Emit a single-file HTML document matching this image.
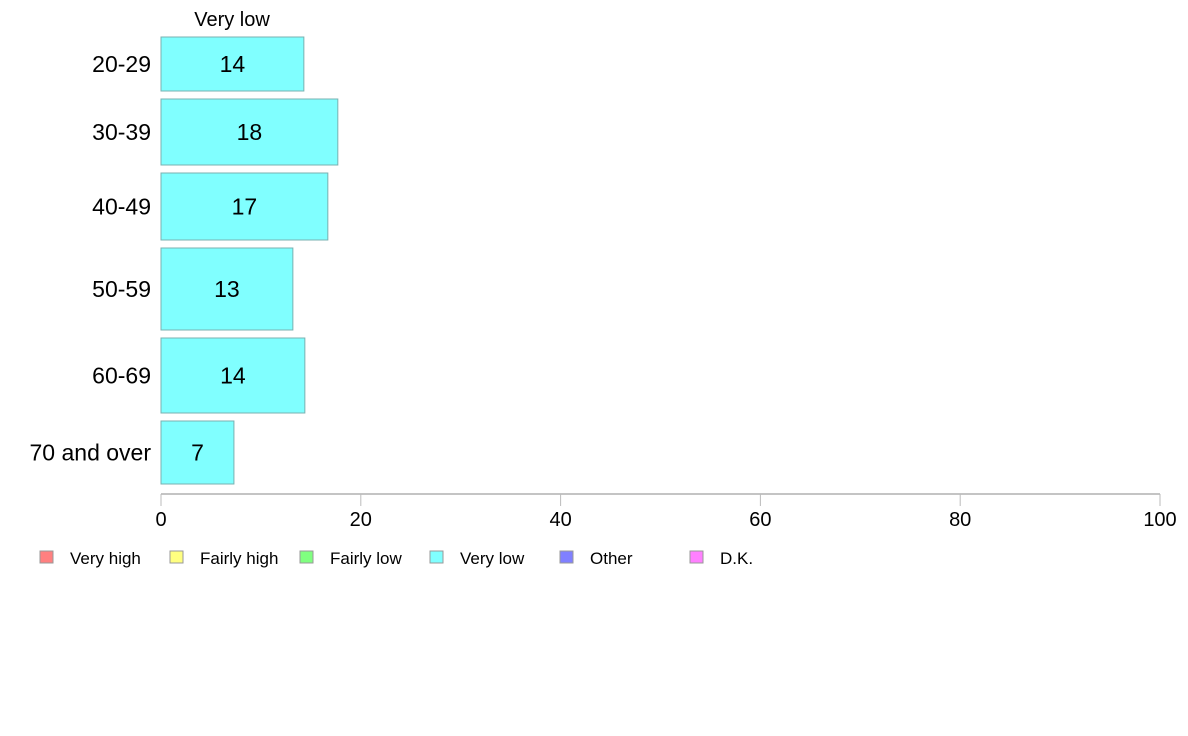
<!DOCTYPE html>
<html><head><meta charset="utf-8"><style>
body{margin:0;background:#fff;}
svg{display:block;font-family:"Liberation Sans",Arial,sans-serif;}
</style></head><body>
<svg id="chart" width="1188" height="736" xmlns="http://www.w3.org/2000/svg">
<text x="232" y="26" font-size="20" text-anchor="middle">Very low</text>
<g id="bars"></g>
<g id="axis"></g>
<g id="legend"></g>
</svg>
<script>
const categories = ["20-29","30-39","40-49","50-59","60-69","70 and over"];
const values = [14.3, 17.7, 16.7, 13.2, 14.4, 7.3];
const labels = ["14","18","17","13","14","7"];
const weights = [54, 66, 67, 82, 75, 63];
const ticks = [0,20,40,60,80,100];
const legendNames = ["Very high","Fairly high","Fairly low","Very low","Other","D.K."];
const legendColors = ["#ff8080","#ffff80","#80ff80","#80ffff","#8080ff","#ff80ff"];

const NS="http://www.w3.org/2000/svg";
const x0=161, x1=1160, yTop=37, yBot=484, gap=8;
const xs=v=>x0+(v/100)*(x1-x0);
const totalW=weights.reduce((a,b)=>a+b,0);
const scaleH=(yBot-yTop-gap*(weights.length-1))/totalW;
function mk(tag,attrs,parent){const e=document.createElementNS(NS,tag);for(const k in attrs)e.setAttribute(k,attrs[k]);parent.appendChild(e);return e;}
const gb=document.getElementById('bars');
let y=yTop;
categories.forEach((c,i)=>{
  const h=weights[i]*scaleH;
  const r=mk('rect',{x:x0,y:y,width:xs(values[i])-x0,height:h,fill:'#80ffff',stroke:'#7ab0b0','stroke-width':1},gb);
  
  
  const t=mk('text',{x:(x0+xs(values[i]))/2,y:y+h/2+8,'font-size':23,'text-anchor':'middle'},gb);
  t.textContent=labels[i];
  
  
  const l=mk('text',{x:151,y:y+h/2+8,'font-size':23,'text-anchor':'end'},gb);
  l.textContent=c;
  
  
  y+=h+gap;
});
const ga=document.getElementById('axis');
const al=mk('line',{x1:x0,x2:x1,y1:494,y2:494,stroke:'#888','stroke-width':1},ga);


ticks.forEach(v=>{
  const tk=mk('line',{x1:xs(v),x2:xs(v),y1:494,y2:506,stroke:'#bbb','stroke-width':1},ga);
  
  
  const t=mk('text',{x:xs(v),y:526,'font-size':20,'text-anchor':'middle'},ga);
  t.textContent=v;
  
  
});
const gl=document.getElementById('legend');
legendNames.forEach((n,i)=>{
  const bx=40+i*130;
  const r=mk('rect',{x:bx,y:551,width:13,height:12,fill:legendColors[i],stroke:'#999','stroke-width':1},gl);
  
  
  const t=mk('text',{x:bx+30,y:564,'font-size':17},gl);
  t.textContent=n;
  
  
});
</script>
</body></html>
